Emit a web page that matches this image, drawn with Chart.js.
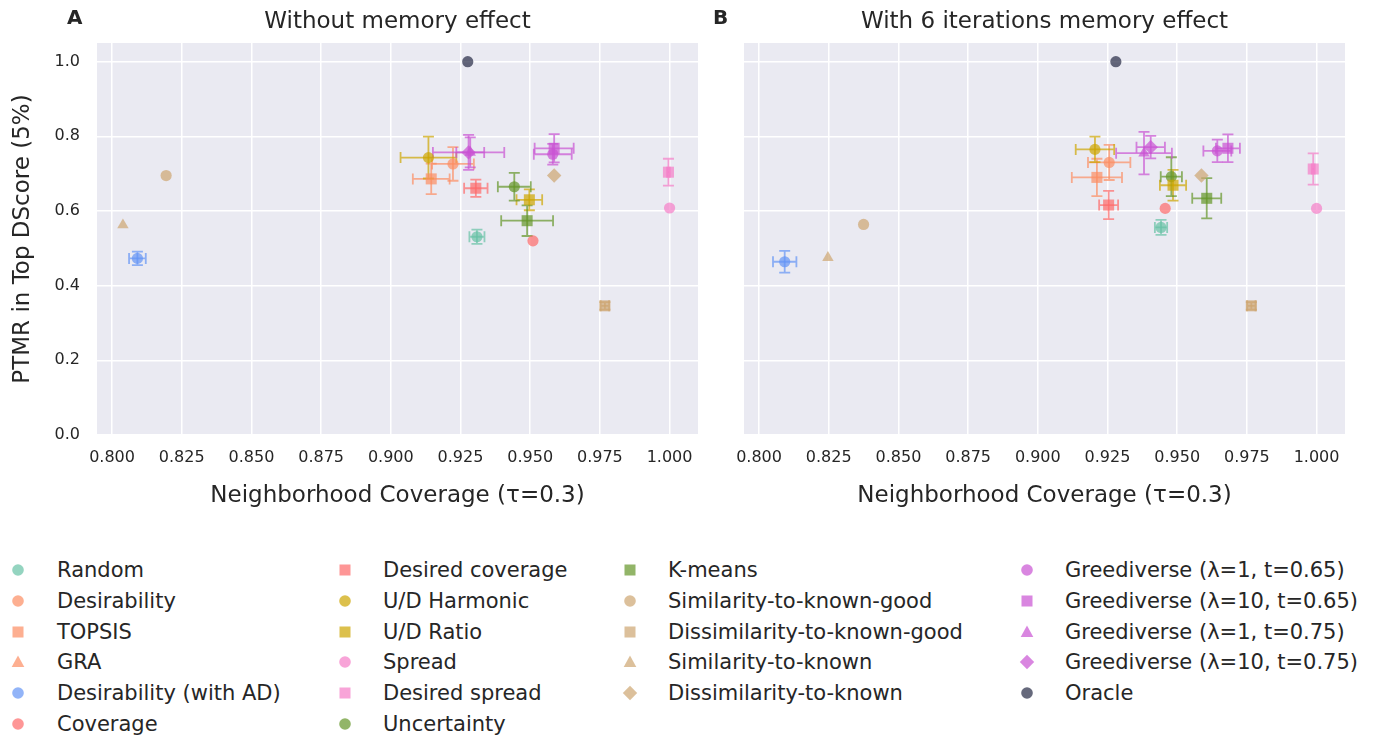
<!DOCTYPE html>
<html><head><meta charset="utf-8">
<script src="https://cdn.jsdelivr.net/npm/chart.js@4.4.1/dist/chart.umd.min.js"></script>
<style>
body{margin:0;background:#fff;width:1375px;height:740px;overflow:hidden;position:relative;font-family:'DejaVu Sans',sans-serif;color:#262626}
canvas{position:absolute;top:0}
#c1{left:0}
#c2{left:700px}
.panel{position:absolute;font-weight:bold;font-size:20px;line-height:20px}
.leg{position:absolute;font-size:21px;line-height:24px;white-space:nowrap;color:#262626}
.mk{position:absolute}
</style></head>
<body>
<canvas id="c1" width="720" height="520"></canvas>
<canvas id="c2" width="675" height="520"></canvas>
<div class="panel" style="left:67px;top:7px">A</div>
<div class="panel" style="left:713px;top:7px">B</div>
<div id="legend"></div>
<script>
const methods = ["Random","Desirability","TOPSIS","GRA","Desirability (with AD)","Coverage","Desired coverage","U/D Harmonic","U/D Ratio","Spread","Desired spread","Uncertainty","K-means","Similarity-to-known-good","Dissimilarity-to-known-good","Similarity-to-known","Dissimilarity-to-known","Greediverse (λ=1, t=0.65)","Greediverse (λ=10, t=0.65)","Greediverse (λ=1, t=0.75)","Greediverse (λ=10, t=0.75)","Oracle"];

// Panel A: without memory effect
const leftX    = [0.9309,0.9223,0.9145,null,0.8091,0.9510,0.9305,0.9135,0.9497,1.0000,0.9996,0.9443,0.9489,0.8194,0.9768,0.8039,0.9586,0.9581,0.9586,0.9285,0.9279,0.9276];
const leftY    = [0.531,0.726,0.686,null,0.473,0.520,0.661,0.743,0.630,0.608,0.704,0.665,0.574,0.695,0.346,0.5625,0.695,0.752,0.768,0.757,0.757,1.000];
const leftXErr = [0.0027,0.0075,0.0066,null,0.0030,0,0.0042,0.0100,0.0046,0,0.0005,0.0059,0.0093,0,0.0015,0,0,0.0068,0.0070,0.0050,0.0128,0];
const leftYErr = [0.019,0.045,0.041,null,0.018,0,0.023,0.056,0.028,0,0.036,0.037,0.041,0,0.010,0,0,0.028,0.038,0.040,0.047,0];

// Panel B: with 6 iterations memory effect
const rightX    = [0.9442,0.9256,0.9212,null,0.8092,0.9457,0.9254,0.9205,0.9485,1.0000,0.9988,0.9479,0.9606,0.8375,0.9766,0.8247,0.9587,0.9644,0.9682,0.9381,0.9405,0.9280];
const rightY    = [0.556,0.730,0.690,null,0.464,0.607,0.616,0.765,0.669,0.607,0.7125,0.692,0.634,0.564,0.346,0.475,0.695,0.761,0.768,0.755,0.771,1.000];
const rightXErr = [0.0022,0.0076,0.0090,null,0.0042,0,0.0034,0.0069,0.0047,0,0.0005,0.0038,0.0052,0,0.0015,0,0,0.0050,0.0043,0.0100,0.0051,0];
const rightYErr = [0.020,0.047,0.050,null,0.029,0,0.038,0.034,0.041,0,0.042,0.052,0.054,0,0.010,0,0,0.030,0.037,0.057,0.030,0];

const xTicks = [0.800,0.825,0.850,0.875,0.900,0.925,0.950,0.975,1.000];
const yTicks = [0.0,0.2,0.4,0.6,0.8,1.0];

// styles (kept separate from data)
const baseCol = {
  teal:[102,194,165], orange:[252,141,98], blue:[100,148,245], red:[253,106,106],
  gold:[205,165,0], pink:[245,126,199], green:[100,150,40], tan:[205,165,112],
  purple:[201,82,211], dark:[37,42,68]
};
const colorKeys = ["teal","orange","orange","orange","blue","red","red","gold","gold","pink","pink","green","green","tan","tan","tan","tan","purple","purple","purple","purple","dark"];
const shapes = ["circle","circle","rect","triangle","circle","circle","rect","circle","rect","circle","rect","circle","rect","circle","rect","triangle","rectRot","circle","rect","triangle","rectRot","circle"];
const radiusFor = {circle:5.6, rect:7.8, triangle:6.6, rectRot:7.2};
const ALPHA = 0.7;
const rgba = (k,a)=>`rgba(${baseCol[k].join(',')},${a})`;

const bgPlugin = {
  id:'plotBg',
  beforeDraw(chart){
    const {ctx, chartArea:a} = chart;
    ctx.save(); ctx.fillStyle='#eaeaf2';
    ctx.fillRect(a.left,a.top,a.right-a.left,a.bottom-a.top); ctx.restore();
  }
};
const errorBars = {
  id:'errorBars',
  beforeDatasetsDraw(chart){
    const {ctx, scales:{x,y}} = chart;
    ctx.save();
    ctx.lineWidth = 1.8;
    chart.data.datasets.forEach(ds=>{
      ctx.strokeStyle = ds.errColor;
      ds.data.forEach(p=>{
        if(p.x==null) return;
        const cx=x.getPixelForValue(p.x), cy=y.getPixelForValue(p.y);
        const cap=5.5;
        if(p.xErr){
          const l=x.getPixelForValue(p.x-p.xErr), r=x.getPixelForValue(p.x+p.xErr);
          ctx.beginPath(); ctx.moveTo(l,cy); ctx.lineTo(r,cy);
          ctx.moveTo(l,cy-cap); ctx.lineTo(l,cy+cap);
          ctx.moveTo(r,cy-cap); ctx.lineTo(r,cy+cap); ctx.stroke();
        }
        if(p.yErr){
          const t=y.getPixelForValue(p.y+p.yErr), b=y.getPixelForValue(p.y-p.yErr);
          ctx.beginPath(); ctx.moveTo(cx,t); ctx.lineTo(cx,b);
          ctx.moveTo(cx-cap,t); ctx.lineTo(cx+cap,t);
          ctx.moveTo(cx-cap,b); ctx.lineTo(cx+cap,b); ctx.stroke();
        }
      });
    });
    ctx.restore();
  }
};

function makeDatasets(X,Y,XE,YE){
  return methods.map((m,i)=>({
    label:m,
    data: X[i]==null ? [] : [{x:X[i], y:Y[i], xErr:XE[i], yErr:YE[i]}],
    pointStyle: shapes[i],
    pointRadius: radiusFor[shapes[i]],
    pointBackgroundColor: rgba(colorKeys[i],ALPHA),
    pointBorderWidth: 0,
    pointBorderColor: 'rgba(0,0,0,0)',
    errColor: rgba(colorKeys[i],ALPHA)
  }));
}

const FONT = "'DejaVu Sans', sans-serif";
function makeChart(id, X,Y,XE,YE, title, showY, yAxisWidth, padRight){
  return new Chart(document.getElementById(id), {
    type:'scatter',
    data:{datasets:makeDatasets(X,Y,XE,YE)},
    plugins:[bgPlugin, errorBars],
    options:{
      responsive:false, animation:false, devicePixelRatio:1, events:[],
      layout:{padding:{left:0,right:padRight,top:0,bottom:0}},
      plugins:{
        legend:{display:false}, tooltip:{enabled:false},
        title:{display:true, text:title, fullSize:false, color:'#262626',
          font:{family:FONT,size:23,weight:'normal'}, padding:{top:8,bottom:7.4}}
      },
      scales:{
        x:{type:'linear', min:0.7946, max:1.0102,
          afterBuildTicks(s){ s.ticks = xTicks.map(v=>({value:v})); },
          afterFit(s){ s.height = 85; },
          grid:{color:'#ffffff', lineWidth:1.5, drawTicks:false},
          border:{display:false},
          ticks:{padding:13, color:'#262626', font:{family:FONT,size:16}, maxRotation:0,
            callback:v=>Number(v).toFixed(3)},
          title:{display:true, text:'Neighborhood Coverage (τ=0.3)', color:'#262626',
            font:{family:FONT,size:23}, padding:{top:0,bottom:10}}
        },
        y:{type:'linear', min:0, max:1.05,
          afterBuildTicks(s){ s.ticks = yTicks.map(v=>({value:v})); },
          afterFit(s){ s.width = yAxisWidth; },
          grid:{color:'#ffffff', lineWidth:1.5, drawTicks:false},
          border:{display:false},
          ticks:{display:showY, padding:17, color:'#262626', font:{family:FONT,size:16},
            callback:v=>Number(v).toFixed(1)},
          title:{display:showY, text:'PTMR in Top DScore (5%)', color:'#262626',
            font:{family:FONT,size:23}, padding:{top:9,bottom:0}}
        }
      }
    }
  });
}

makeChart('c1', leftX,leftY,leftXErr,leftYErr, 'Without memory effect', true, 97, 22);
makeChart('c2', rightX,rightY,rightXErr,rightYErr, 'With 6 iterations memory effect', false, 44, 30);

// legend (HTML)
const legCols = [
  {mx:18, tx:57, items:[0,1,2,3,4,5]},
  {mx:345, tx:383, items:[6,7,8,9,10,11]},
  {mx:630, tx:668, items:[12,13,14,15,16]},
  {mx:1027, tx:1065, items:[17,18,19,20,21]}
];
const rowY0 = 570, rowDY = 30.8;
function markerSVG(shape, col){
  const c = rgba(col,ALPHA);
  let s='';
  if(shape==='circle') s=`<circle cx="8" cy="8" r="5.8" fill="${c}"/>`;
  else if(shape==='rect') s=`<rect x="2.5" y="2.5" width="11" height="11" fill="${c}"/>`;
  else if(shape==='triangle') s=`<polygon points="8,1.5 14.3,13 1.7,13" fill="${c}"/>`;
  else s=`<polygon points="8,0.8 15.2,8 8,15.2 0.8,8" fill="${c}"/>`;
  return `<svg width="16" height="16" viewBox="0 0 16 16">${s}</svg>`;
}
const leg = document.getElementById('legend');
legCols.forEach(col=>{
  col.items.forEach((idx,r)=>{
    const cy = rowY0 + r*rowDY;
    const m = document.createElement('div');
    m.className='mk'; m.style.left=(col.mx-8)+'px'; m.style.top=(cy-8)+'px';
    m.innerHTML = markerSVG(shapes[idx], colorKeys[idx]);
    leg.appendChild(m);
    const t = document.createElement('div');
    t.className='leg'; t.style.left=col.tx+'px'; t.style.top=(cy-12)+'px';
    t.textContent = methods[idx];
    leg.appendChild(t);
  });
});
</script>
</body></html>
